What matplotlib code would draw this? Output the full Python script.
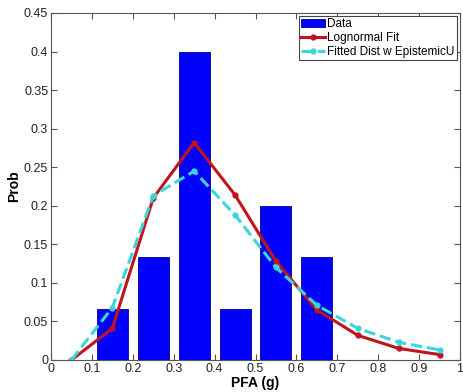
import matplotlib.pyplot as plt
import numpy as np

plt.rcParams['font.family'] = ['Liberation Sans', 'DejaVu Sans']

# histogram of data
bin_centers = [0.15, 0.25, 0.35, 0.45, 0.55, 0.65]
bin_probs = [0.0667, 0.1333, 0.4, 0.0667, 0.2, 0.1333]

# fitted curves
x_fit = [0.05, 0.15, 0.25, 0.35, 0.45, 0.55, 0.65, 0.75, 0.85, 0.95]
lognormal = [0.0, 0.041, 0.21, 0.282, 0.214, 0.128, 0.065, 0.032, 0.015, 0.007]
epistemic = [0.0, 0.068, 0.213, 0.245, 0.188, 0.12, 0.071, 0.041, 0.023, 0.013]

fig = plt.figure(figsize=(4.63, 3.92), dpi=100)
ax = fig.add_axes([51 / 463, 32 / 392, 409 / 463, 347 / 392])

bars = ax.bar(bin_centers, bin_probs, width=0.076, color='#0000ff', edgecolor='#00008b',
              linewidth=0.6, label='Data')
l1, = ax.plot(x_fit, lognormal, '-', color='#c0141c', lw=2.2, marker='o', ms=3.5,
              label='Lognormal Fit')
l2, = ax.plot(x_fit, epistemic, '--', color='#3ad6dc', lw=2.2, marker='o', ms=3.5,
              label='Fitted Dist w EpistemicU')

ax.set_xlim(0, 1)
ax.set_ylim(0, 0.45)
ax.set_xticks(np.arange(0, 1.01, 0.1))
ax.set_xticklabels(['0', '0.1', '0.2', '0.3', '0.4', '0.5', '0.6', '0.7', '0.8', '0.9', '1'])
ax.set_yticks(np.arange(0, 0.451, 0.05))
ax.set_yticklabels(['0', '0.05', '0.1', '0.15', '0.2', '0.25', '0.3', '0.35', '0.4', '0.45'])
ax.tick_params(direction='in', top=True, right=True, labelsize=9, length=4,
               color='#555555', labelcolor='#222222', pad=2)
for s in ax.spines.values():
    s.set_color('#555555')
    s.set_linewidth(0.8)

ax.set_xlabel('PFA (g)', fontweight='bold', fontsize=10, labelpad=1)
ax.set_ylabel('Prob', fontweight='bold', fontsize=10, labelpad=2)

leg = ax.legend([bars, l1, l2], ['Data', 'Lognormal Fit', 'Fitted Dist w EpistemicU'],
                loc='upper right', fontsize=8.5, frameon=True, fancybox=False,
                borderpad=0.2, handlelength=2.0, handletextpad=0.2,
                labelspacing=0.15, borderaxespad=0.25, framealpha=1)
leg.get_frame().set_edgecolor('#444444')
leg.get_frame().set_linewidth(0.8)

fig.savefig('out.png', dpi=100)
